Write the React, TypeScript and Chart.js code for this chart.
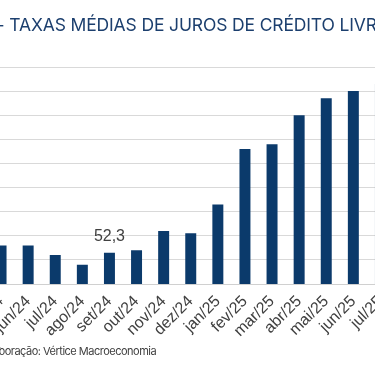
import React, { useEffect, useRef } from "react";
import { Chart, registerables } from "chart.js";

Chart.register(...registerables);

const categories = [
  "mai/24", "jun/24", "jul/24", "ago/24", "set/24", "out/24", "nov/24", "dez/24",
  "jan/25", "fev/25", "mar/25", "abr/25", "mai/25", "jun/25", "jul/25",
];
const rates = [52.6, 52.6, 52.2, 51.8, 52.3, 52.4, 53.2, 53.1, 54.3, 56.6, 56.8, 58.0, 58.7, 59.0, 59.3];
const labelledIndex = 4;
const yMin = 51;
const yMax = 60;
const yStep = 1;

const titleText = "- TAXAS MÉDIAS DE JUROS DE CRÉDITO LIVRE";
const sourceText = "Elaboração: Vértice Macroeconomia";

const CANVAS_LEFT = -40;
const CANVAS_W = 460;
const CANVAS_H = 366;

const valueLabelPlugin = {
  id: "valueLabel",
  afterDatasetsDraw(chart: any) {
    const meta = chart.getDatasetMeta(0);
    const bar = meta.data[labelledIndex];
    if (!bar) return;
    const ctx = chart.ctx;
    ctx.save();
    ctx.font = '16px "Liberation Sans", Arial, sans-serif';
    ctx.fillStyle = "#404040";
    ctx.textAlign = "center";
    ctx.textBaseline = "alphabetic";
    ctx.fillText(rates[labelledIndex].toFixed(1).replace(".", ","), bar.x, bar.y - 12);
    ctx.restore();
  },
};

export default function App() {
  const ref = useRef<HTMLCanvasElement | null>(null);

  useEffect(() => {
    if (!ref.current) return;
    const chart = new Chart(ref.current, {
      type: "bar",
      data: {
        labels: categories,
        datasets: [
          {
            data: rates,
            backgroundColor: "#0b3a6b",
            borderWidth: 0,
            categoryPercentage: 1,
            barPercentage: 0.405,
          },
        ],
      },
      options: {
        animation: false,
        responsive: false,
        devicePixelRatio: 1,
        layout: { padding: { left: 27.5, right: 26, top: 67, bottom: 0 } },
        plugins: {
          legend: { display: false },
          tooltip: { enabled: false },
          title: { display: false },
        },
        scales: {
          x: {
            grid: { display: false, drawTicks: false },
            border: { display: true, color: "#d0d0d0", width: 1 },
            ticks: {
              autoSkip: false,
              minRotation: 45,
              maxRotation: 45,
              padding: 8,
              color: "#404040",
              font: { family: '"Liberation Sans", Arial, sans-serif', size: 16 },
            },
            afterFit: (scale: any) => {
              scale.height = 82;
              scale.paddingLeft = 0;
              scale.paddingRight = 0;
            },
          },
          y: {
            min: yMin,
            max: yMax,
            ticks: { display: false, stepSize: yStep },
            grid: { color: "#d9d9d9", lineWidth: 1, drawTicks: false },
            border: { display: false },
            afterFit: (scale: any) => {
              scale.width = 0;
              scale.paddingTop = 0;
              scale.paddingBottom = 0;
            },
          },
        },
      },
      plugins: [valueLabelPlugin],
    });
    return () => chart.destroy();
  }, []);

  return (
    <div
      style={{
        position: "fixed",
        left: 0,
        top: 0,
        width: 375,
        height: 366,
        overflow: "hidden",
        background: "#ffffff",
      }}
    >
      <canvas
        ref={ref}
        width={CANVAS_W}
        height={CANVAS_H}
        style={{ position: "absolute", left: CANVAS_LEFT, top: 0, width: CANVAS_W, height: CANVAS_H }}
      />
      <div
        style={{
          position: "absolute",
          left: -3.4,
          top: 16,
          whiteSpace: "nowrap",
          fontFamily: "Inter, sans-serif",
          fontSize: 17.5,
          lineHeight: "17.5px",
          color: "#1c3f6e",
          letterSpacing: "-0.14px",
        }}
      >
        {titleText}
      </div>
      <div
        style={{
          position: "absolute",
          left: -15.5,
          top: 346,
          whiteSpace: "nowrap",
          fontFamily: "Inter, sans-serif",
          fontSize: 11,
          lineHeight: "11px",
          color: "#404040",
          letterSpacing: "-0.5px",
        }}
      >
        {sourceText}
      </div>
    </div>
  );
}
